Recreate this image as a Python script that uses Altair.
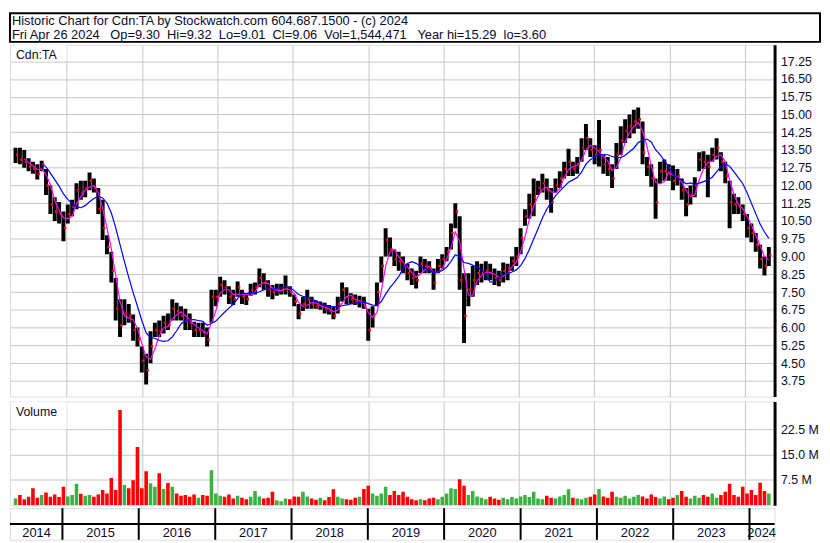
import altair as alt
import pandas as pd

# ---------------- data ----------------
hi = [
    13.6, 13.6, 13.5, 13.15, 13.0, 12.9, 13.05, 12.7, 12.0, 11.5,
    11.3, 10.9, 11.2, 11.4, 12.1, 12.2, 12.2, 12.55, 12.3, 11.9,
    11.4, 9.9, 9.2, 8.1, 7.2, 7.2, 7.0, 6.55, 6.0, 5.2,
    4.9, 5.85, 6.2, 6.3, 6.5, 6.6, 7.2, 7.05, 6.9, 6.8,
    6.6, 6.25, 6.2, 6.2, 6.0, 7.6, 7.6, 8.15, 8.0, 7.75,
    7.6, 7.95, 7.6, 7.45, 7.85, 7.9, 8.5, 8.3, 8.0, 7.8,
    7.85, 7.85, 8.2, 7.75, 7.4, 7.0, 7.3, 7.6, 7.3, 7.15,
    7.1, 7.05, 6.95, 6.9, 7.3, 7.9, 7.7, 7.45, 7.4, 7.35,
    7.3, 6.8, 6.9, 7.9, 9.0, 10.2, 9.8, 9.3, 9.2, 9.0,
    8.7, 8.5, 8.4, 9.0, 8.9, 8.8, 8.5, 8.9, 9.1, 9.4,
    10.4, 11.25, 10.7, 8.3, 8.3, 8.6, 8.8, 8.7, 8.8, 8.7,
    8.5, 8.4, 8.75, 8.7, 9.0, 9.4, 10.2, 11.0, 11.65, 12.3,
    12.2, 12.5, 12.3, 11.9, 12.3, 12.6, 13.0, 13.55, 13.0, 13.2,
    14.0, 14.6, 14.0, 13.7, 14.77, 13.3, 13.2, 12.9, 13.8, 14.5,
    14.8, 15.0, 15.2, 15.29, 14.7, 13.2, 12.9, 12.3, 13.0, 13.1,
    12.9, 12.85, 12.7, 12.3, 11.9, 12.0, 12.35, 13.4, 13.45, 13.3,
    13.6, 14.0, 13.4, 13.0, 12.2, 11.65, 11.5, 11.2, 10.8, 10.4,
    10.0, 9.5, 9.0, 9.4,
]
lo = [
    12.95, 12.9, 12.75, 12.6, 12.5, 12.25, 12.6, 11.6, 10.8, 10.5,
    10.4, 9.65, 10.4, 10.7, 11.0, 11.4, 11.5, 11.8, 11.7, 10.8,
    9.7, 9.1, 7.9, 6.3, 5.6, 6.1, 6.2, 5.45, 5.2, 4.1,
    3.6, 4.5, 5.6, 5.6, 5.75, 5.9, 6.3, 6.3, 6.3, 5.9,
    5.9, 5.6, 5.6, 5.6, 5.2, 6.2, 6.9, 7.3, 7.4, 7.0,
    6.95, 7.3, 7.0, 6.95, 7.35, 7.4, 7.7, 7.6, 7.3, 7.2,
    7.35, 7.4, 7.4, 7.3, 6.9, 6.35, 6.7, 6.8, 6.8, 6.8,
    6.75, 6.6, 6.55, 6.35, 6.6, 7.1, 7.0, 7.0, 6.95, 6.85,
    6.8, 5.45, 6.0, 6.9, 7.9, 9.0, 9.0, 8.6, 8.4, 8.3,
    8.0, 7.8, 7.65, 8.3, 8.3, 8.3, 7.6, 8.3, 8.5, 8.8,
    9.3, 10.2, 7.6, 5.35, 6.9, 7.3, 7.8, 7.9, 8.0, 8.0,
    7.8, 7.75, 7.9, 8.0, 8.4, 8.6, 9.1, 10.3, 10.6, 10.7,
    11.6, 11.7, 11.4, 10.85, 11.7, 11.9, 12.3, 12.4, 12.4, 12.5,
    13.0, 13.5, 13.2, 12.9, 12.8, 12.5, 12.4, 11.9, 12.7, 13.3,
    13.8, 14.0, 14.2, 14.4, 12.9, 12.4, 11.95, 10.6, 12.1, 12.2,
    12.2, 11.8, 12.0, 11.4, 10.7, 11.2, 11.5, 12.6, 12.7, 11.5,
    13.0, 13.1, 12.6, 12.1, 10.2, 10.8, 10.8, 10.5, 9.8, 9.6,
    9.2, 8.5, 8.2, 8.6,
]
close = [
    13.3, 13.1, 13.0, 12.8, 12.7, 12.5, 12.9, 12.0, 11.2, 10.9,
    10.8, 10.2, 10.8, 11.1, 11.8, 11.7, 11.9, 12.2, 11.9, 11.0,
    10.2, 9.4, 8.4, 6.8, 6.1, 6.6, 6.5, 5.9, 5.5, 4.6,
    4.2, 5.2, 5.9, 5.85, 6.2, 6.1, 6.8, 6.7, 6.5, 6.3,
    6.2, 5.9, 5.9, 5.8, 5.5, 7.3, 7.3, 7.8, 7.7, 7.3,
    7.2, 7.7, 7.3, 7.2, 7.6, 7.7, 8.1, 7.9, 7.6, 7.5,
    7.6, 7.6, 7.7, 7.5, 7.1, 6.6, 7.0, 7.2, 7.0, 6.9,
    6.9, 6.8, 6.7, 6.5, 7.0, 7.6, 7.3, 7.2, 7.1, 7.1,
    6.9, 5.9, 6.5, 7.5, 8.6, 9.7, 9.3, 8.9, 8.8, 8.6,
    8.3, 8.1, 8.0, 8.7, 8.6, 8.5, 7.9, 8.6, 8.9, 9.2,
    10.0, 10.9, 8.0, 6.5, 7.6, 8.0, 8.3, 8.3, 8.4, 8.3,
    8.1, 8.0, 8.4, 8.5, 8.8, 9.0, 9.8, 10.7, 11.2, 11.5,
    11.9, 12.1, 11.8, 11.3, 12.0, 12.3, 12.7, 13.0, 12.7, 12.9,
    13.6, 14.0, 13.5, 13.3, 13.5, 12.9, 12.7, 12.3, 13.3, 13.9,
    14.3, 14.5, 14.7, 14.8, 13.4, 12.8, 12.3, 11.3, 12.6, 12.6,
    12.5, 12.2, 12.4, 11.8, 11.2, 11.6, 12.0, 13.1, 13.0, 12.8,
    13.3, 13.6, 13.0, 12.4, 11.3, 11.2, 11.1, 10.8, 10.2, 10.0,
    9.5, 8.9, 8.6, 9.06,
]
# volume in millions of shares
vol = [
    2.0, 3.0, 1.8, 2.5, 5.0, 2.2, 3.0, 3.8, 2.5, 3.2,
    2.4, 5.5, 2.6, 3.0, 6.4, 3.4, 2.8, 3.0, 2.5, 3.2,
    4.5, 3.5, 8.1, 4.5, 28.3, 6.0, 5.0, 7.4, 17.3, 5.0,
    10.1, 6.5, 5.5, 9.5, 4.8, 6.6, 5.5, 3.5, 2.8, 3.0,
    2.5, 3.2, 2.2, 3.0, 2.8, 10.4, 3.5, 2.8, 2.5, 3.2,
    2.0, 2.8, 2.2, 1.8, 2.5, 4.2, 2.6, 2.0, 2.2, 4.0,
    1.5, 1.2, 2.0, 1.8, 2.6, 2.5, 4.0, 2.6, 2.0, 1.6,
    2.2, 1.5, 2.4, 4.7, 2.5, 2.0, 1.8, 1.6, 2.2, 2.5,
    4.8, 5.8, 3.5, 2.8, 3.5, 5.5, 3.0, 4.2, 3.0, 4.0,
    2.5, 1.8, 1.5, 1.8, 1.5, 2.0, 2.2, 1.8, 2.5, 3.5,
    5.0, 4.8, 7.7, 5.8, 3.0, 4.2, 2.6, 2.2, 1.8, 2.5,
    2.0, 1.6, 2.2, 1.8, 2.4, 2.0, 2.6, 3.0, 2.4, 4.0,
    2.0, 1.8, 2.8, 2.2, 2.0, 2.6, 3.0, 4.7, 2.2, 2.0,
    1.8, 2.2, 2.5, 3.2, 4.8, 2.6, 2.2, 4.0, 2.5, 2.2,
    2.8, 2.0, 2.5, 3.0, 2.6, 2.0, 3.2, 2.4, 2.0, 2.6,
    1.8, 2.2, 3.0, 4.2, 2.5, 2.0, 2.8, 2.2, 3.0, 2.5,
    3.5, 2.2, 3.0, 4.0, 6.4, 3.0, 2.5, 5.5, 3.5, 4.5,
    3.0, 6.7, 4.2, 3.5,
]
start_date = "2014-04-28"
end_date = "2024-04-26"
years = [2014, 2015, 2016, 2017, 2018, 2019, 2020, 2021, 2022, 2023, 2024]
price_ticks = [3.75, 4.50, 5.25, 6.00, 6.75, 7.50, 8.25, 9.00, 9.75, 10.50,
               11.25, 12.00, 12.75, 13.50, 14.25, 15.00, 15.75, 16.50, 17.25]
vol_ticks = [7.5, 15.0, 22.5]
NB = "\u00a0"
title_line1 = "Historic Chart for Cdn:TA by Stockwatch.com 604.687.1500 - (c) 2024"
day, op_, hi_, lo_, cl_, vol_ = "Fri Apr 26 2024", "9.30", "9.32", "9.01", "9.06", "1,544,471"
year_hi, year_lo = "15.29", "3.60"
title_line2 = (f"{day}{NB*3}Op={op_}{NB*2}Hi={hi_}{NB*2}Lo={lo_}{NB*2}Cl={cl_}{NB*2}"
               f"Vol={vol_}{NB*3}Year hi={year_hi}{NB*2}lo={year_lo}")

# ---------------- tables ----------------
dates = pd.date_range(start_date, end_date, periods=len(close))
df = pd.DataFrame({"date": dates, "hi": hi, "lo": lo, "close": close, "vol": vol})
df["idx"] = range(len(df))
df["dir"] = ["up" if i == 0 or c >= close[i - 1] else "down" for i, c in enumerate(close)]

bounds = [pd.Timestamp(f"{y}-01-01") for y in years[1:]]
seg_start = [pd.Timestamp(start_date)] + bounds
seg_end = bounds + [pd.Timestamp(end_date)]
ydf = pd.DataFrame({"year": [str(y) for y in years],
                    "mid": [a + (b - a) / 2 for a, b in zip(seg_start, seg_end)]})
bdf = pd.DataFrame({"b": bounds})

# ---------------- styling ----------------
FONT = "Liberation Sans"
TXT = "#0b0b2e"
GRID = "#c6c6c6"
W = 774
HH, HP, HV, HY = 29, 356, 105, 32
PMIN, PMAX = 3.09, 17.94
VMAX = 30.8
X0 = pd.Timestamp("2014-04-25")

xscale = alt.Scale(domain=[alt.DateTime(year=2014, month=4, date=25),
                           alt.DateTime(year=2024, month=4, date=30)])
xaxis = alt.Axis(values=[alt.DateTime(year=y, month=1, date=1) for y in years[1:]],
                 tickCount=len(years), grid=True, gridColor=GRID, gridWidth=1,
                 labels=False, ticks=False, domain=False, title=None, minExtent=0)
yprice = alt.Scale(domain=[PMIN, PMAX], nice=False, zero=False)
yaxis = alt.Axis(orient="right", values=price_ticks, tickCount=len(price_ticks),
                 format=".2f", grid=True, gridColor=GRID, gridWidth=1, ticks=False,
                 domainColor="black", domainWidth=3, labelPadding=6, labelFont=FONT,
                 labelFontSize=12.5, labelColor=TXT, labelOverlap=False, title=None)
yvol = alt.Scale(domain=[0, VMAX], nice=False)
vaxis = alt.Axis(orient="right", values=vol_ticks, tickCount=len(vol_ticks),
                 labelExpr="format(datum.value, '.1f') + ' M'", grid=True,
                 gridColor=GRID, gridWidth=1, ticks=False, domainColor="black",
                 domainWidth=3, labelPadding=6, labelFont=FONT, labelFontSize=12.5,
                 labelColor=TXT, labelOverlap=False, title=None)

# ---------------- header ----------------
hdr = pd.DataFrame({"l1": [title_line1], "l2": [title_line2]})
header = alt.layer(
    alt.Chart(hdr).mark_rect(fill="white", stroke="black", strokeWidth=2).encode(
        x=alt.value(0), x2=alt.value(820), y=alt.value(0), y2=alt.value(HH)),
    alt.Chart(hdr).mark_text(align="left", baseline="alphabetic", font=FONT, fontSize=13,
                             color=TXT, x=2, y=12).encode(text="l1:N"),
    alt.Chart(hdr).mark_text(align="left", baseline="alphabetic", font=FONT, fontSize=13,
                             color=TXT, x=2, y=26).encode(text="l2:N"),
).properties(width=820, height=HH)

# ---------------- price panel ----------------
base = alt.Chart(df).encode(x=alt.X("date:T", scale=xscale, axis=xaxis))
bars = base.mark_bar(width=4.0, color="black", clip=True).encode(
    y=alt.Y("lo:Q", scale=yprice, axis=yaxis), y2="hi:Q")
dots = base.mark_square(size=6, color="red", opacity=1, xOffset=1.5, clip=True).encode(
    y="close:Q")
ma_fast = (base.transform_window(ma="mean(close)", frame=[-2, 0])
           .transform_filter("datum.idx >= 2")
           .mark_line(color="#ff00ff", strokeWidth=1.2).encode(y="ma:Q"))
ma_slow = (base.transform_window(ma="mean(close)", frame=[-7, 0])
           .transform_filter("datum.idx >= 6")
           .mark_line(color="#0000ff", strokeWidth=1.2).encode(y="ma:Q"))

pbox = pd.DataFrame({"x0": [X0], "x1": [bounds[0]],
                     "y0": [price_ticks[-1]], "y1": [PMAX], "t": ["Cdn:TA"]})
plabel_box = alt.Chart(pbox).mark_rect(color="white", clip=True).encode(
    x="x0:T", x2="x1:T", y="y0:Q", y2="y1:Q")
plabel = alt.Chart(pbox).mark_text(align="left", baseline="alphabetic", font=FONT,
                                   fontSize=12.5, color=TXT, x=6, y=14).encode(text="t:N")

price = alt.layer(bars, plabel_box, plabel, dots, ma_fast, ma_slow).properties(
    width=W, height=HP)

# ---------------- volume panel ----------------
vbars = alt.Chart(df).mark_bar(width=3.6, clip=True).encode(
    x=alt.X("date:T", scale=xscale, axis=xaxis),
    y=alt.Y("vol:Q", scale=yvol, axis=vaxis),
    color=alt.Color("dir:N", scale=alt.Scale(domain=["up", "down"],
                                             range=["#3cb043", "#ff0000"]), legend=None),
)
vbox = pd.DataFrame({"x0": [X0], "x1": [bounds[0]],
                     "y0": [vol_ticks[-1]], "y1": [VMAX], "t": ["Volume"]})
vlabel_box = alt.Chart(vbox).mark_rect(color="white", clip=True).encode(
    x="x0:T", x2="x1:T", y="y0:Q", y2="y1:Q")
vlabel = alt.Chart(vbox).mark_text(align="left", baseline="alphabetic", font=FONT,
                                   fontSize=12.5, color=TXT, x=6, y=15).encode(text="t:N")
volume = alt.layer(vbars, vlabel_box, vlabel).properties(width=W, height=HV)

# ---------------- year rows ----------------
yrules = alt.Chart(bdf).mark_rule(color="black", strokeWidth=2).encode(
    x=alt.X("b:T", scale=xscale, axis=None))
hline = alt.Chart(pd.DataFrame({"k": [0]})).mark_rule(color="black", strokeWidth=2).encode(
    y=alt.value(16))
ylabels = alt.Chart(ydf).mark_text(font=FONT, fontSize=13, color=TXT,
                                   baseline="alphabetic").encode(
    x=alt.X("mid:T", scale=xscale, axis=None), text="year:N", y=alt.value(29))
yrow = alt.layer(yrules, hline, ylabels).properties(width=W, height=HY)

middle = alt.vconcat(price, volume, spacing=3)
chart = (alt.vconcat(header, middle, yrow, spacing=0, padding=0)
         .configure_view(stroke="black", strokeWidth=2)
         .configure(background="white"))

chart.save("out.html", embed_options={"renderer": "svg", "actions": False})
